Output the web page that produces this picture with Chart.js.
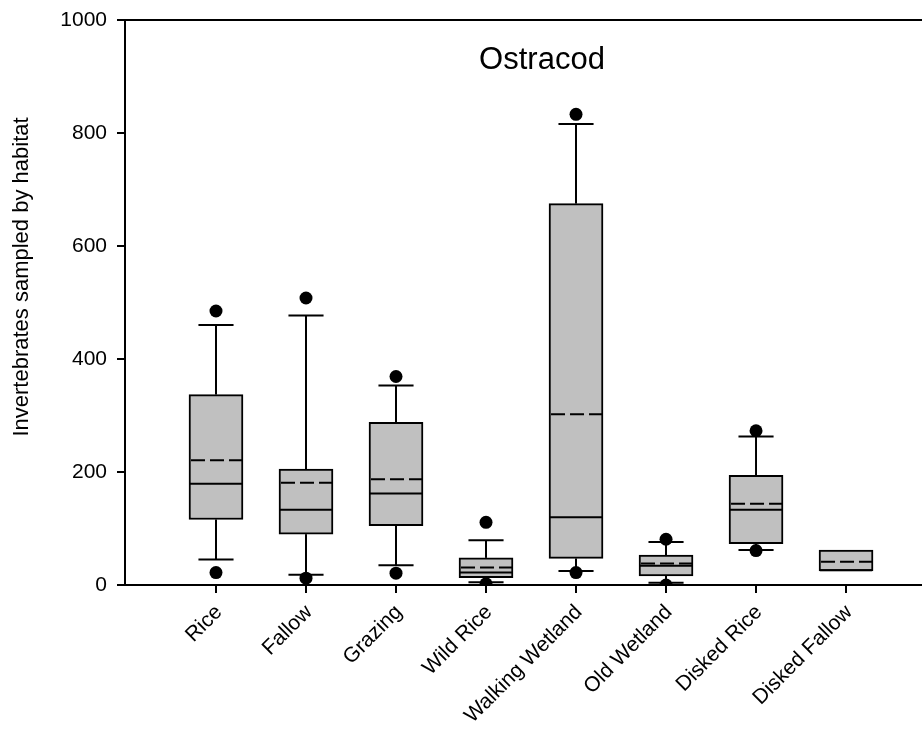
<!DOCTYPE html>
<html>
<head>
<meta charset="utf-8">
<script src="https://cdn.jsdelivr.net/npm/chart.js@4.4.1/dist/chart.umd.min.js"></script>
<style>
  html, body { margin: 0; padding: 0; background: #ffffff; }
  canvas { display: block; }
</style>
</head>
<body>
<canvas id="chart" width="922" height="730"></canvas>
<script>
// Ostracod counts per habitat: box-plot summaries
const habitats    = ['Rice', 'Fallow', 'Grazing', 'Wild Rice', 'Walking Wetland', 'Old Wetland', 'Disked Rice', 'Disked Fallow'];
const lowOutlier  = [22, 12, 21, 2, 22, 0, 61, null];
const whiskerLow  = [45, 18, 35, 5, 25, 4, 62, null];
const q1          = [116, 90, 105, 13, 47, 16, 73, 25];
const median      = [179, 133, 162, 22, 120, 34, 133, 26];
const mean        = [221, 181, 187, 31, 302, 38, 144, 41];
const q3          = [337, 205, 288, 48, 675, 53, 194, 62];
const whiskerHigh = [460, 477, 353, 79, 816, 76, 263, null];
const highOutlier = [485, 508, 369, 111, 833, 81, 273, null];
const yTicks      = [0, 200, 400, 600, 800, 1000];

const FONT = '"Liberation Sans", Arial, Helvetica, sans-serif';
const INK = '#000000';
const BOX_FILL = '#c0c0c0';
const BOX_HALF = 0.3;   // half box width, in category units
const CAP_HALF = 0.195; // half whisker-cap width, in category units

const boxData = habitats.map((_, i) => ({ x: i, y: [q1[i], q3[i]] }));
const outlierData = [];
habitats.forEach((_, i) => {
  if (lowOutlier[i] !== null) outlierData.push({ x: i, y: lowOutlier[i] });
  if (highOutlier[i] !== null) outlierData.push({ x: i, y: highOutlier[i] });
});

function hLine(ctx, x0, x1, y) {
  ctx.beginPath(); ctx.moveTo(x0, y); ctx.lineTo(x1, y); ctx.stroke();
}
function vLine(ctx, x, y0, y1) {
  ctx.beginPath(); ctx.moveTo(x, y0); ctx.lineTo(x, y1); ctx.stroke();
}

// whiskers under the boxes, median/mean lines over them, frame and titles last
const boxParts = {
  id: 'boxParts',
  beforeDatasetsDraw(chart) {
    const { ctx, scales: { x, y } } = chart;
    ctx.save();
    ctx.strokeStyle = INK;
    ctx.lineWidth = 2;
    habitats.forEach((_, i) => {
      const cx = x.getPixelForValue(i);
      const c0 = x.getPixelForValue(i - CAP_HALF);
      const c1 = x.getPixelForValue(i + CAP_HALF);
      if (whiskerHigh[i] !== null) {
        vLine(ctx, cx, y.getPixelForValue(q3[i]), y.getPixelForValue(whiskerHigh[i]));
        hLine(ctx, c0, c1, y.getPixelForValue(whiskerHigh[i]));
      }
      if (whiskerLow[i] !== null) {
        vLine(ctx, cx, y.getPixelForValue(q1[i]), y.getPixelForValue(whiskerLow[i]));
        hLine(ctx, c0, c1, y.getPixelForValue(whiskerLow[i]));
      }
    });
    ctx.restore();
  },
  afterDatasetsDraw(chart) {
    const { ctx, scales: { x, y } } = chart;
    ctx.save();
    ctx.strokeStyle = INK;
    ctx.lineWidth = 2;
    habitats.forEach((_, i) => {
      const b0 = x.getPixelForValue(i - BOX_HALF) + 1;
      const b1 = x.getPixelForValue(i + BOX_HALF) - 1;
      ctx.setLineDash([]);
      hLine(ctx, b0, b1, y.getPixelForValue(median[i]));
      ctx.setLineDash([14, 5]);
      hLine(ctx, b0 + 1, b1, y.getPixelForValue(mean[i]));
    });
    ctx.restore();
  },
  afterDraw(chart) {
    const { ctx, chartArea, scales: { y } } = chart;
    ctx.save();
    ctx.strokeStyle = INK;
    ctx.lineWidth = 2;
    hLine(ctx, chartArea.left, chart.width, y.getPixelForValue(1000));
    ctx.fillStyle = INK;
    ctx.textAlign = 'center';
    ctx.textBaseline = 'middle';
    ctx.font = '31px ' + FONT;
    ctx.fillText('Ostracod', 542, 60);
    ctx.translate(22, 277);
    ctx.rotate(-Math.PI / 2);
    ctx.font = '22px ' + FONT;
    ctx.fillText('Invertebrates sampled by habitat', 0, 0);
    ctx.restore();
  }
};

new Chart(document.getElementById('chart'), {
  type: 'bar',
  data: {
    datasets: [
      {
        type: 'scatter',
        data: outlierData,
        pointRadius: 6.5,
        pointBackgroundColor: INK,
        pointBorderColor: INK,
        pointBorderWidth: 0,
        order: 1
      },
      {
        type: 'bar',
        data: boxData,
        backgroundColor: BOX_FILL,
        borderColor: INK,
        borderWidth: 2,
        borderSkipped: false,
        barThickness: 54,
        order: 2
      }
    ]
  },
  options: {
    responsive: false,
    animation: false,
    events: [],
    layout: { autoPadding: false, padding: { top: 20, right: 0, left: 0, bottom: 0 } },
    plugins: {
      legend: { display: false },
      tooltip: { enabled: false }
    },
    scales: {
      x: {
        type: 'linear',
        offset: false,
        min: -1.011,
        max: 7.844,
        afterBuildTicks(scale) {
          scale.ticks = habitats.map((_, i) => ({ value: i }));
        },
        afterFit(scale) {
          scale.height = 145;
          scale.paddingLeft = 0;
          scale.paddingRight = 0;
        },
        grid: {
          display: true,
          offset: false,
          drawOnChartArea: false,
          drawTicks: true,
          tickLength: 8,
          color: INK,
          lineWidth: 2
        },
        border: { display: true, color: INK, width: 2 },
        ticks: {
          autoSkip: false,
          minRotation: 45,
          maxRotation: 45,
          padding: 7,
          labelOffset: 3,
          color: INK,
          font: { family: FONT, size: 21 },
          callback: (v) => habitats[v]
        }
      },
      y: {
        type: 'linear',
        min: 0,
        max: 1000,
        afterBuildTicks(scale) {
          scale.ticks = yTicks.map(v => ({ value: v }));
        },
        afterFit(scale) {
          scale.width = 125;
          scale.paddingTop = 0;
          scale.paddingBottom = 0;
        },
        grid: {
          display: true,
          drawOnChartArea: false,
          drawTicks: true,
          tickLength: 8,
          color: INK,
          lineWidth: 2
        },
        border: { display: true, color: INK, width: 2 },
        ticks: {
          padding: 10,
          color: INK,
          font: { family: FONT, size: 21 },
          callback: (v) => String(v)
        }
      }
    }
  },
  plugins: [boxParts]
});
</script>
</body>
</html>
